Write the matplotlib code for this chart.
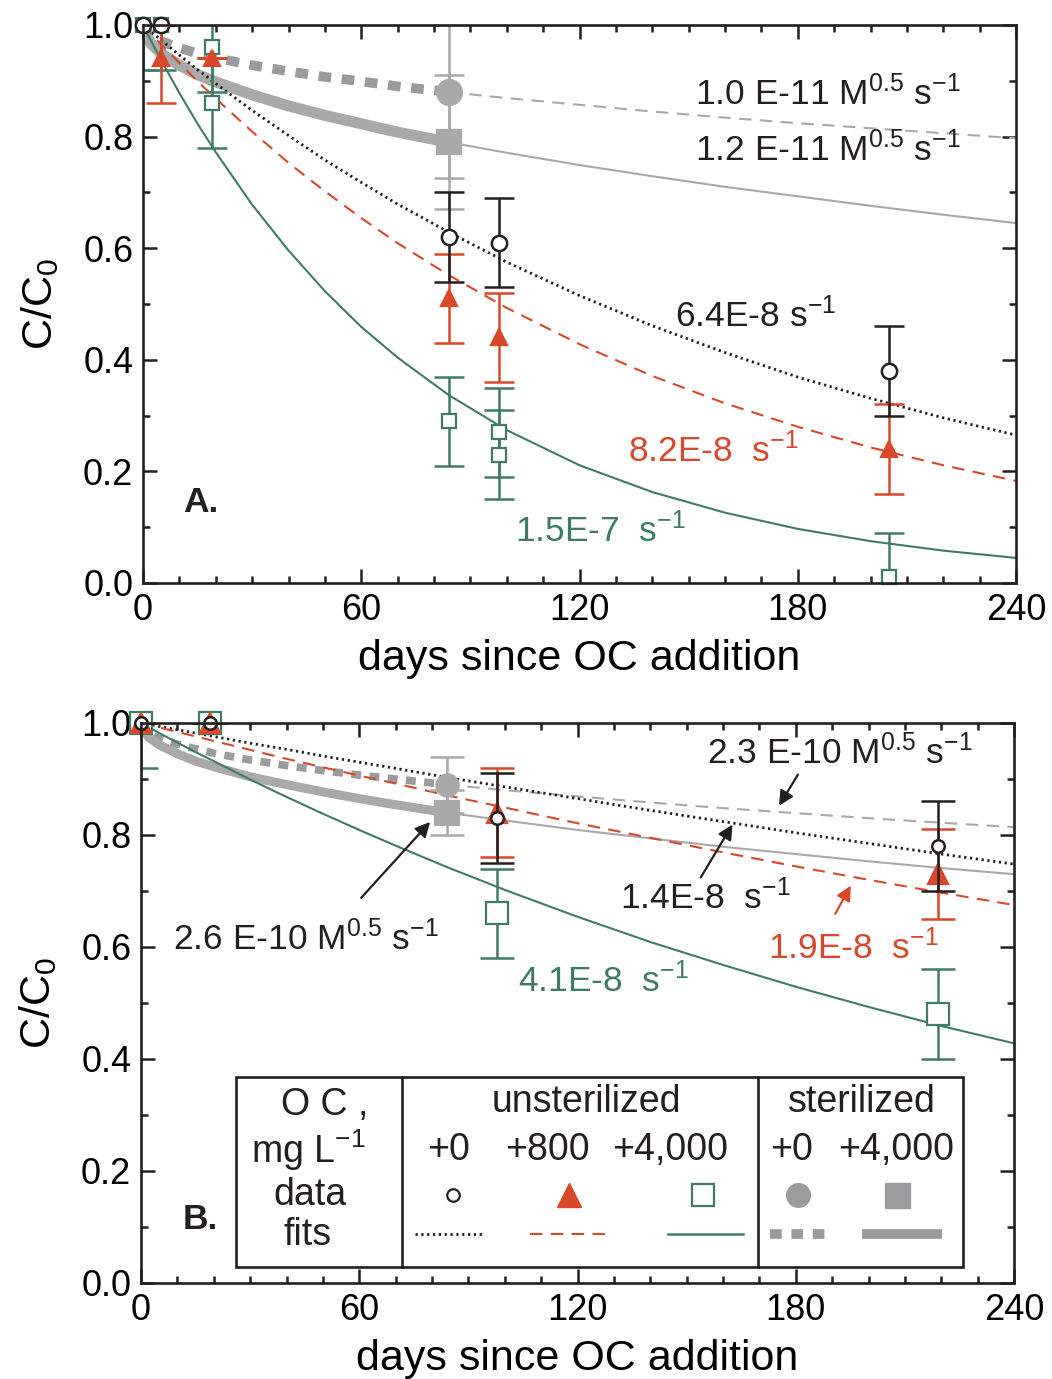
import matplotlib
matplotlib.use("Agg")
import matplotlib.pyplot as plt
from matplotlib.patches import Rectangle
from matplotlib.lines import Line2D

plt.rcParams['font.family'] = ['Liberation Sans', 'DejaVu Sans']
plt.rcParams['mathtext.fontset'] = 'custom'
plt.rcParams['mathtext.rm'] = 'Liberation Sans'
plt.rcParams['mathtext.it'] = 'Liberation Sans'
plt.rcParams['text.color'] = '#231f20'

BLACK = '#231f20'
RED = '#d9482b'
GREEN = '#3f7d62'
GRAY = '#a9a9aa'
DGRAY = '#9a9b9c'

# ---------------- data: panel A ----------------
a_t0 = [0, 5, 84, 98, 205]
a_c0 = [1.0, 1.0, 0.62, 0.61, 0.38]
a_e0 = [0, 0, 0.08, 0.08, 0.08]

a_t800 = [5, 19, 84, 98, 205]
a_c800 = [0.94, 0.94, 0.51, 0.44, 0.24]
a_e800 = [0.08, 0.0, 0.08, 0.08, 0.08]

a_t4000 = [0, 5, 19, 19, 84, 98, 98, 205]
a_c4000 = [1.0, 1.0, 0.96, 0.86, 0.29, 0.27, 0.23, 0.01]
a_e4000 = [0.08, 0.08, 0.08, 0.08, 0.08, 0.08, 0.08, 0.08]

a_ts = [84]
a_cs0 = [0.88]
a_es0 = [0.155]
a_cs4000 = [0.79]
a_es4000 = [0.12]

# fitted curves, values
fit_t = [0, 2, 5, 10, 15, 20, 30, 40, 50, 60, 70, 84, 100, 120, 140, 160, 180, 200, 220, 240]
a_fit0 = [1.0, 0.989, 0.973, 0.946, 0.920, 0.895, 0.847, 0.802, 0.758, 0.718, 0.679, 0.629,
          0.575, 0.515, 0.461, 0.413, 0.369, 0.331, 0.296, 0.265]
a_fit800 = [1.0, 0.986, 0.965, 0.932, 0.899, 0.868, 0.809, 0.753, 0.702, 0.654, 0.609, 0.552,
            0.493, 0.428, 0.371, 0.322, 0.280, 0.243, 0.211, 0.183]
a_fit4000 = [1.0, 0.974, 0.937, 0.878, 0.823, 0.772, 0.678, 0.596, 0.523, 0.459, 0.404, 0.337,
             0.274, 0.211, 0.163, 0.126, 0.097, 0.075, 0.058, 0.045]
a_fits0 = [1.0, 0.981, 0.971, 0.959, 0.949, 0.941, 0.928, 0.917, 0.907, 0.899, 0.890, 0.880,
           0.869, 0.857, 0.845, 0.834, 0.824, 0.815, 0.806, 0.797]
a_fits4000 = [1.0, 0.968, 0.949, 0.928, 0.911, 0.898, 0.875, 0.855, 0.838, 0.823, 0.808, 0.790,
              0.771, 0.749, 0.729, 0.710, 0.693, 0.676, 0.660, 0.645]

# ---------------- data: panel B ----------------
b_t0 = [0, 19, 98, 219]
b_c0 = [1.0, 1.0, 0.83, 0.78]
b_e0 = [0, 0, 0.08, 0.08]

b_t800 = [0, 19, 98, 219]
b_c800 = [1.0, 1.0, 0.84, 0.73]
b_e800 = [0, 0, 0.08, 0.08]

b_t4000 = [0, 19, 98, 219]
b_c4000 = [1.0, 1.0, 0.66, 0.48]
b_e4000 = [0.08, 0.0, 0.08, 0.08]

b_ts = [84]
b_cs0 = [0.89]
b_es0 = [0.05]
b_cs4000 = [0.84]
b_es4000 = [0.04]

b_fit0 = [1.0, 0.998, 0.994, 0.988, 0.982, 0.976, 0.964, 0.953, 0.941, 0.930, 0.919, 0.903,
          0.886, 0.865, 0.844, 0.824, 0.804, 0.785, 0.766, 0.748]
b_fit800 = [1.0, 0.997, 0.992, 0.984, 0.976, 0.968, 0.952, 0.936, 0.921, 0.906, 0.892, 0.871,
            0.849, 0.821, 0.795, 0.769, 0.744, 0.720, 0.697, 0.675]
b_fit4000 = [1.0, 0.993, 0.982, 0.965, 0.948, 0.932, 0.899, 0.868, 0.838, 0.809, 0.781, 0.743,
             0.702, 0.654, 0.609, 0.568, 0.529, 0.493, 0.459, 0.428]
b_fits0 = [1.0, 0.983, 0.973, 0.962, 0.954, 0.946, 0.934, 0.924, 0.915, 0.907, 0.900, 0.890,
           0.880, 0.869, 0.858, 0.848, 0.839, 0.830, 0.822, 0.814]
b_fits4000 = [1.0, 0.975, 0.961, 0.945, 0.932, 0.922, 0.904, 0.890, 0.877, 0.865, 0.854, 0.840,
              0.826, 0.809, 0.794, 0.779, 0.766, 0.753, 0.741, 0.730]

x_ticks = [0, 60, 120, 180, 240]
y_ticks = [0.0, 0.2, 0.4, 0.6, 0.8, 1.0]

FS = 26      # tick labels
LFS = 31     # axis labels
AFS = 25.5   # annotations
TFS = 27     # legend table

fig = plt.figure(figsize=(10.52, 13.79), dpi=100)
axA = fig.add_axes([143 / 1052, 1 - 583 / 1379, 873 / 1052, 558 / 1379])
axB = fig.add_axes([141 / 1052, 1 - 1283 / 1379, 873 / 1052, 560 / 1379])


def style_axes(ax):
    ax.set_xlim(0, 240)
    ax.set_ylim(0, 1.0)
    ax.set_xticks(x_ticks)
    ax.set_xticks(range(0, 241, 10), minor=True)
    ax.set_yticks(y_ticks)
    ax.set_yticks([i / 10 for i in range(11)], minor=True)
    ax.set_yticklabels(['%.1f' % v for v in y_ticks])
    ax.tick_params(which='both', direction='in', top=True, right=True,
                   labelsize=FS, color=BLACK, width=1.8)
    ax.tick_params(which='major', length=10, pad=7)
    ax.tick_params(which='minor', length=5)
    for s in ax.spines.values():
        s.set_linewidth(1.9)
        s.set_color(BLACK)
        s.set_zorder(12)
    ax.set_xlabel('days since OC addition', fontsize=LFS, labelpad=8)
    ax.set_ylabel('C/C$_0$', fontsize=LFS, labelpad=16)


def split(t, c, cut):
    i = t.index(cut)
    return (t[:i + 1], c[:i + 1]), (t[i:], c[i:])


def draw_fits(ax, f0, f800, f4000, fs0, fs4000, thick):
    ax.plot(fit_t, f0, color=BLACK, lw=2.0, ls=(0, (0.8, 1.3)), zorder=3)
    ax.plot(fit_t, f800, color=RED, lw=1.5, ls=(0, (6, 4)), zorder=3)
    ax.plot(fit_t, f4000, color=GREEN, lw=1.5, zorder=3)
    (t1, c1), (t2, c2) = split(fit_t, fs0, 84)
    ax.plot(t1, c1, color=DGRAY, lw=thick - 1, ls=(0, (1.3, 1.1)), zorder=2)
    ax.plot(t2, c2, color=GRAY, lw=1.5, ls=(0, (6, 4)), zorder=2)
    (t1, c1), (t2, c2) = split(fit_t, fs4000, 84)
    ax.plot(t1, c1, color=GRAY, lw=thick, solid_capstyle='butt', zorder=2)
    ax.plot(t2, c2, color=GRAY, lw=1.5, zorder=2)


def draw_points(ax, t, c, e, marker, ms, mfc, mec, col, cap, z, mew=1.6):
    # error bars are clipped at the frame, the markers are not
    ax.errorbar(t, c, yerr=e, fmt='none', ecolor=col, elinewidth=1.8,
                capsize=cap, capthick=1.8, zorder=z)
    ax.plot(t, c, ls='none', marker=marker, ms=ms, mfc=mfc, mec=mec, mew=mew,
            zorder=z + 0.5, clip_on=False)


# ---------------- panel A ----------------
style_axes(axA)
draw_fits(axA, a_fit0, a_fit800, a_fit4000, a_fits0, a_fits4000, 8)
draw_points(axA, a_ts, a_cs0, a_es0, 'o', 18, GRAY, GRAY, GRAY, 11, 4)
draw_points(axA, a_ts, a_cs4000, a_es4000, 's', 17, GRAY, GRAY, GRAY, 11, 4)
draw_points(axA, a_t4000, a_c4000, a_e4000, 's', 10, 'white', GREEN, GREEN, 11, 5)
draw_points(axA, a_t800, a_c800, a_e800, '^', 11, RED, RED, RED, 11, 6)
draw_points(axA, a_t0, a_c0, a_e0, 'o', 11, 'white', BLACK, BLACK, 11, 7, mew=1.8)

axA.text(151.8, 0.857, '1.0 E-11 M$^{0.5}$ s$^{-1}$', fontsize=AFS, va='baseline')
axA.text(151.8, 0.757, '1.2 E-11 M$^{0.5}$ s$^{-1}$', fontsize=AFS, va='baseline')
axA.text(146.3, 0.459, '6.4E-8 s$^{-1}$', fontsize=AFS, va='baseline')
axA.text(133.3, 0.217, '8.2E-8  s$^{-1}$', fontsize=AFS, va='baseline', color=RED)
axA.text(102.3, 0.073, '1.5E-7  s$^{-1}$', fontsize=AFS, va='baseline', color=GREEN)
axA.text(11, 0.127, 'A.', fontsize=AFS, va='baseline', fontweight='bold')

# ---------------- panel B ----------------
style_axes(axB)
draw_fits(axB, b_fit0, b_fit800, b_fit4000, b_fits0, b_fits4000, 6.5)
draw_points(axB, b_ts, b_cs0, b_es0, 'o', 16, GRAY, GRAY, GRAY, 12, 4)
draw_points(axB, b_ts, b_cs4000, b_es4000, 's', 17, GRAY, GRAY, GRAY, 12, 4)
draw_points(axB, b_t4000, b_c4000, b_e4000, 's', 16, 'white', GREEN, GREEN, 12, 5)
draw_points(axB, b_t800, b_c800, b_e800, '^', 14, RED, RED, RED, 12, 6)
draw_points(axB, b_t0, b_c0, b_e0, 'o', 9, 'white', BLACK, BLACK, 12, 7, mew=1.8)

arrow = dict(arrowstyle='-|>', color=BLACK, lw=1.6, mutation_scale=22)
axB.text(155.6, 0.927, '2.3 E-10 M$^{0.5}$ s$^{-1}$', fontsize=AFS, va='baseline')
axB.annotate('', xy=(175, 0.848), xytext=(181, 0.912), arrowprops=arrow)
axB.text(131.7, 0.668, '1.4E-8  s$^{-1}$', fontsize=AFS, va='baseline')
axB.annotate('', xy=(163, 0.823), xytext=(153.5, 0.72), arrowprops=arrow)
axB.text(172.4, 0.579, '1.9E-8  s$^{-1}$', fontsize=AFS, va='baseline', color=RED)
axB.annotate('', xy=(195.5, 0.714), xytext=(190.5, 0.655),
             arrowprops=dict(arrow, color=RED))
axB.text(8.8, 0.595, '2.6 E-10 M$^{0.5}$ s$^{-1}$', fontsize=AFS, va='baseline')
axB.annotate('', xy=(80, 0.827), xytext=(60, 0.684), arrowprops=arrow)
axB.text(103.6, 0.52, '4.1E-8  s$^{-1}$', fontsize=AFS, va='baseline', color=GREEN)
axB.text(11.5, 0.096, 'B.', fontsize=AFS, va='baseline', fontweight='bold')

# ---------------- legend table (axes fraction) ----------------
tr = axB.transAxes
axB.add_patch(Rectangle((0.1088, 0.0286), 0.8328, 0.3394, transform=tr,
                        fill=True, fc='white', ec=BLACK, lw=1.9, zorder=8))
for xv in (0.299, 0.7068):
    axB.add_line(Line2D([xv, xv], [0.0286, 0.368], transform=tr,
                        color=BLACK, lw=1.9, zorder=9))

lt = dict(transform=tr, fontsize=TFS, ha='center', va='center', zorder=10)
axB.text(0.2108, 0.318, 'O C ,', **lt)
axB.text(0.191, 0.2375, 'mg L$^{-1}$', **lt)
axB.text(0.1936, 0.157, 'data', **lt)
axB.text(0.191, 0.0857, 'fits', **lt)
axB.text(0.5097, 0.323, 'unsterilized', **lt)
axB.text(0.826, 0.323, 'sterilized', **lt)
for xv, s in zip((0.3528, 0.465, 0.606, 0.7457, 0.865),
                 ('+0', '+800', '+4,000', '+0', '+4,000')):
    axB.text(xv, 0.2375, s, **lt)

lm = dict(transform=tr, ls='none', zorder=10, clip_on=False)
axB.plot([0.357], [0.157], marker='o', ms=9, mfc='white', mec=BLACK, mew=1.6, **lm)
axB.plot([0.4903], [0.157], marker='^', ms=17, mfc=RED, mec=RED, **lm)
axB.plot([0.6438], [0.157], marker='s', ms=16, mfc='white', mec=GREEN, mew=1.6, **lm)
axB.plot([0.7526], [0.157], marker='o', ms=17, mfc=DGRAY, mec=DGRAY, **lm)
axB.plot([0.866], [0.157], marker='s', ms=18, mfc=DGRAY, mec=DGRAY, **lm)

ll = dict(transform=tr, zorder=10, clip_on=False)
axB.plot([0.314, 0.394], [0.0875, 0.0875], color=BLACK, lw=2.0, ls=(0, (0.8, 1.3)), **ll)
axB.plot([0.4456, 0.535], [0.0875, 0.0875], color=RED, lw=1.5, ls=(0, (6, 4)), **ll)
axB.plot([0.6037, 0.6896], [0.0875, 0.0875], color=GREEN, lw=1.8, **ll)
axB.plot([0.7205, 0.7938], [0.0875, 0.0875], color=DGRAY, lw=7, ls=(0, (1.2, 1.0)), **ll)
axB.plot([0.826, 0.9175], [0.0875, 0.0875], color=DGRAY, lw=7, solid_capstyle='butt', **ll)

fig.savefig('out.png', dpi=100)
